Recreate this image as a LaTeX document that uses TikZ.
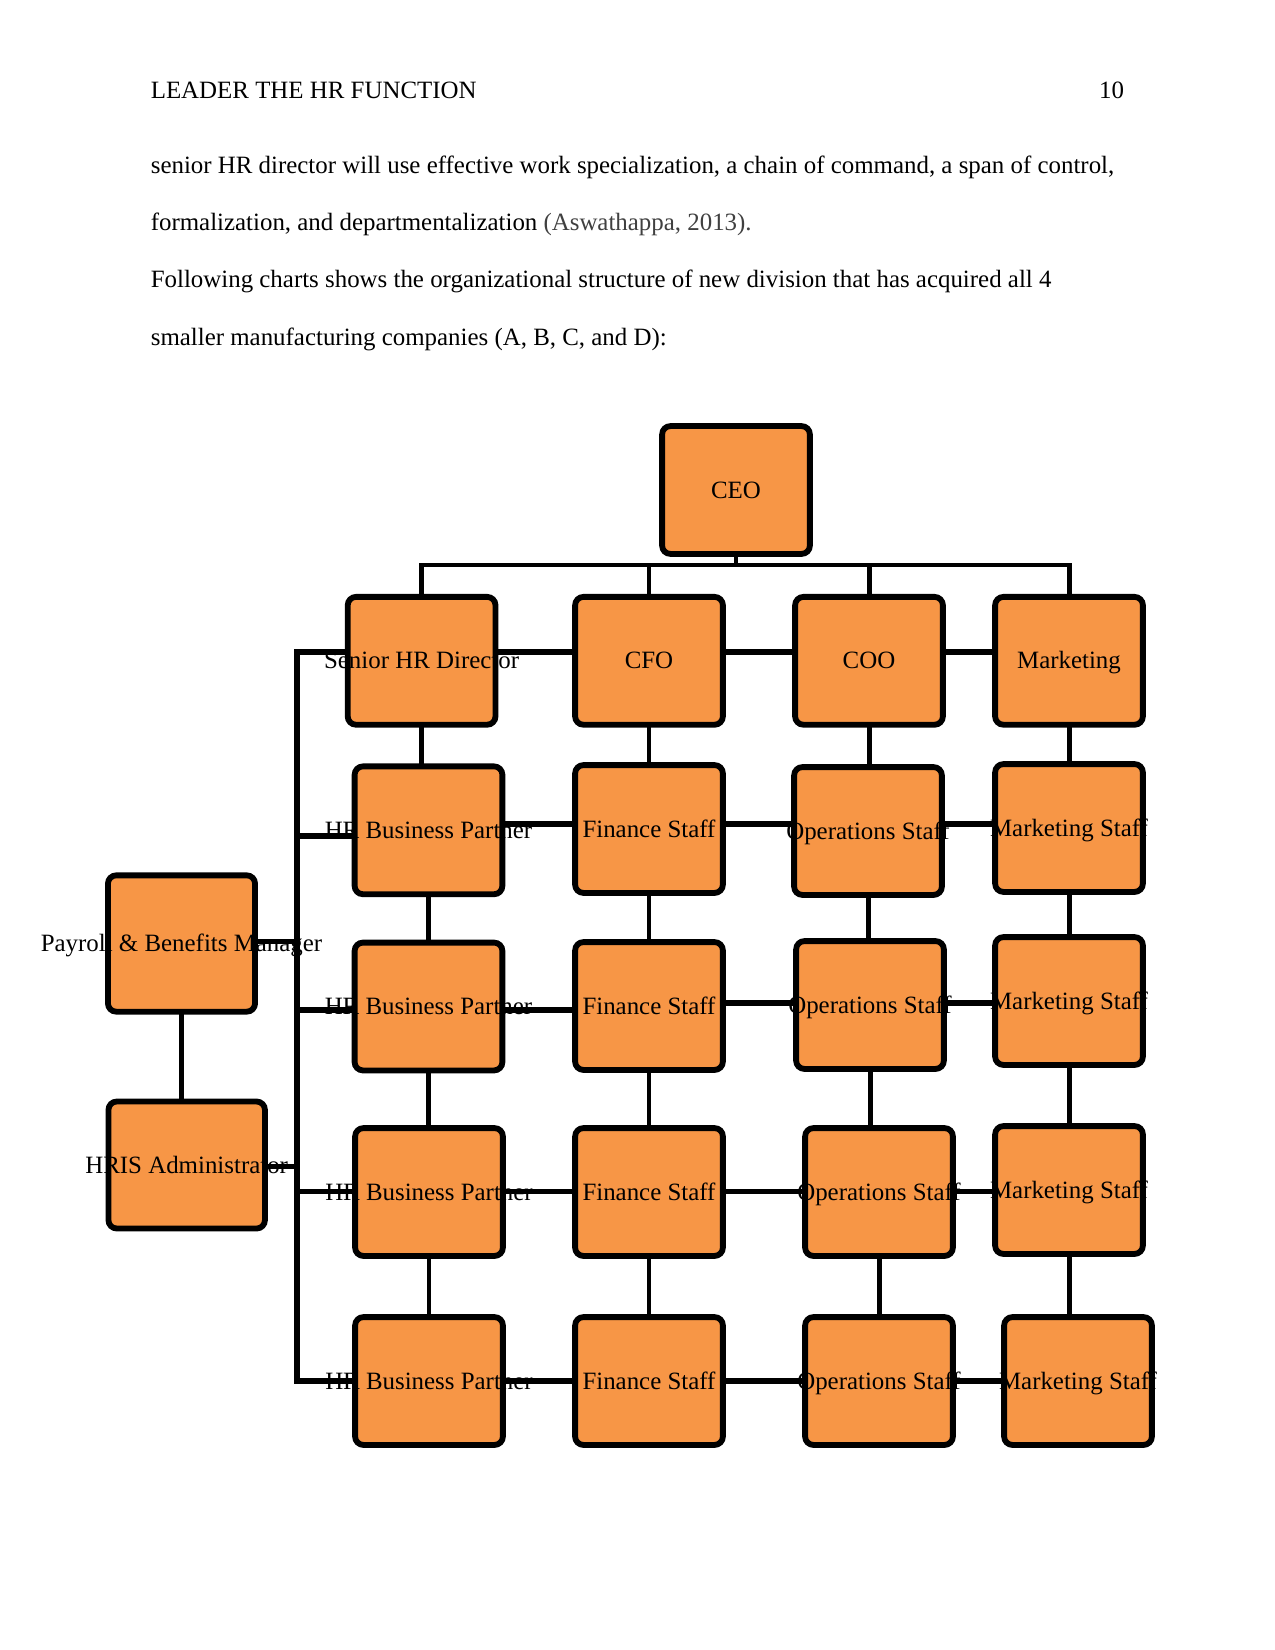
\documentclass[tikz,border=0pt]{standalone}
\usepackage{fontspec}
\setmainfont{Liberation Serif}
\definecolor{hrOrange}{HTML}{F79646}
\definecolor{hrGrey}{HTML}{404040}
\tikzset{
  % boxes: fill first, labels next, outline last (outline sits over the labels)
  boxfill/.style = {rectangle, rounded corners=4pt, fill=hrOrange, inner sep=0pt,
                    minimum width=70.8pt, minimum height=61.2pt},
  boxline/.style = {black, line width=2.8pt, rounded corners=4pt},
  link/.style    = {black, line width=2.4pt},
  hlink/.style   = {black, line width=2.7pt},
  lbl/.style     = {font=\fontsize{12}{14}\selectfont, anchor=base, yshift=-3.9pt, inner sep=0pt},
  txt/.style     = {font=\fontsize{12}{14}\selectfont, anchor=base west, inner sep=0pt},
}

\begin{document}
\begin{tikzpicture}[x=0.0169333cm, y=-0.0169333cm]
  \useasboundingbox (0,0) rectangle (1275,1650);
  % page text
  \node[txt] (head) at (150.4,98.3) {LEADER THE HR FUNCTION};
  \node[txt, anchor=base east] (pagenum) at (1124.5,98.3) {10};
  \node[txt] (line1) at (150.4,173.3) {senior HR director will use effective work specialization, a chain of command, a span of control,};
  \node[txt] (line2) at (150.4,230) {formalization, and departmentalization \textcolor{hrGrey}{(Aswathappa, 2013).}};
  \node[txt] (line3) at (150.4,287.3) {Following charts shows the organizational structure of new division that has acquired all 4};
  \node[txt] (line4) at (150.4,345) {smaller manufacturing companies (A, B, C, and D):};

  % box fills
  \foreach \n/\x/\y in {ceo/736/490,
      hrdir/421.6/660.8, cfo/649/660.8, coo/869/660.8, mkt/1069/660.8,
      hrbp2/428.5/830.3, fin2/649/829, ops2/868/831, mkt2/1069/828,
      hrbp3/428.5/1006.5, fin3/649/1006, ops3/870/1005, mkt3/1069/1001,
      hrbp4/429/1192, fin4/649/1192, ops4/879/1192, mkt4/1069/1190,
      hrbp5/429/1381, fin5/649/1381, ops5/879/1381, mkt5/1078/1381}
    \node[boxfill] (\n) at (\x,\y) {};
  \node[boxfill, minimum width=70.5pt, minimum height=65.3pt] (pay) at (181.5,943.5) {};
  \node[boxfill, minimum width=75pt, minimum height=60.8pt] (hris) at (186.7,1165) {};

  % labels
  \foreach \n/\t in {ceo/CEO, hrdir/Senior HR Director, cfo/CFO, coo/COO, mkt/Marketing,
      pay/Payroll \& Benefits Manager, hris/HRIS Administrator}
    \node[lbl] (\n-t) at (\n) {\t};
  \foreach \r in {2,...,5} {
    \node[lbl] (hrbp\r-t) at (hrbp\r) {HR Business Partner};
    \node[lbl] (fin\r-t) at (fin\r) {Finance Staff};
    \node[lbl] (ops\r-t) at (ops\r) {Operations Staff};
    \node[lbl] (mkt\r-t) at (mkt\r) {Marketing Staff};
  }

  % outlines
  \foreach \n in {ceo, hrdir, cfo, coo, mkt, pay, hris,
      hrbp2, fin2, ops2, mkt2, hrbp3, fin3, ops3, mkt3,
      hrbp4, fin4, ops4, mkt4, hrbp5, fin5, ops5, mkt5}
    \draw[boxline] (\n.south west) rectangle (\n.north east);

  % connector rows
  \coordinate (bus) at (735,565);
  \coordinate (hrbus) at (297,652);
  \coordinate (r1) at (0,652);
  \coordinate (r2) at (0,824);
  \coordinate (r2b) at (0,836);
  \coordinate (r3) at (0,1003);
  \coordinate (r3b) at (0,1010);
  \coordinate (r4) at (0,1191.5);
  \coordinate (r5) at (0,1381);
  \coordinate (rp) at (0,941);
  \coordinate (rh) at (0,1166);

  % CEO to the four heads
  \draw[link] (ceo.south) -- (ceo.south |- bus);
  \draw[link] (hrdir.north) -- (hrdir.north |- bus) -- (mkt.north |- bus) -- (mkt.north);
  \draw[link] (cfo.north) -- (cfo.north |- bus);
  \draw[link] (coo.north) -- (coo.north |- bus);

  % columns
  \foreach \a/\b in {hrdir/hrbp2, hrbp2/hrbp3, hrbp3/hrbp4, hrbp4/hrbp5,
      cfo/fin2, fin2/fin3, fin3/fin4, fin4/fin5,
      coo/ops2, ops2/ops3, ops3/ops4, ops4/ops5,
      mkt/mkt2, mkt2/mkt3, mkt3/mkt4, mkt4/mkt5}
    \draw[link] (\a.south) -- (\a.south |- \b.north);
  \draw[link] (pay.south) -- (pay.south |- hris.north);

  % rows
  \foreach \a/\b/\r in {hrdir/cfo/r1, cfo/coo/r1, coo/mkt/r1,
      hrbp2/fin2/r2, fin2/ops2/r2, ops2/mkt2/r2,
      hrbp3/fin3/r3b, fin3/ops3/r3, ops3/mkt3/r3,
      hrbp4/fin4/r4, fin4/ops4/r4, ops4/mkt4/r4,
      hrbp5/fin5/r5, fin5/ops5/r5, ops5/mkt5/r5}
    \draw[hlink] (\a.east |- \r) -- (\b.west |- \r);

  % HR side bus
  \draw[hlink] (hrdir.west |- r1) -- (hrbus |- r1) -- (hrbus |- r5) -- (hrbp5.west |- r5);
  \foreach \b/\r in {hrbp2/r2b, hrbp3/r3b, hrbp4/r4}
    \draw[hlink] (hrbus |- \r) -- (\b.west |- \r);
  \draw[link] (pay.east |- rp) -- (hrbus |- rp);
  \draw[link] (hris.east |- rh) -- (hrbus |- rh);
\end{tikzpicture}
\end{document}
